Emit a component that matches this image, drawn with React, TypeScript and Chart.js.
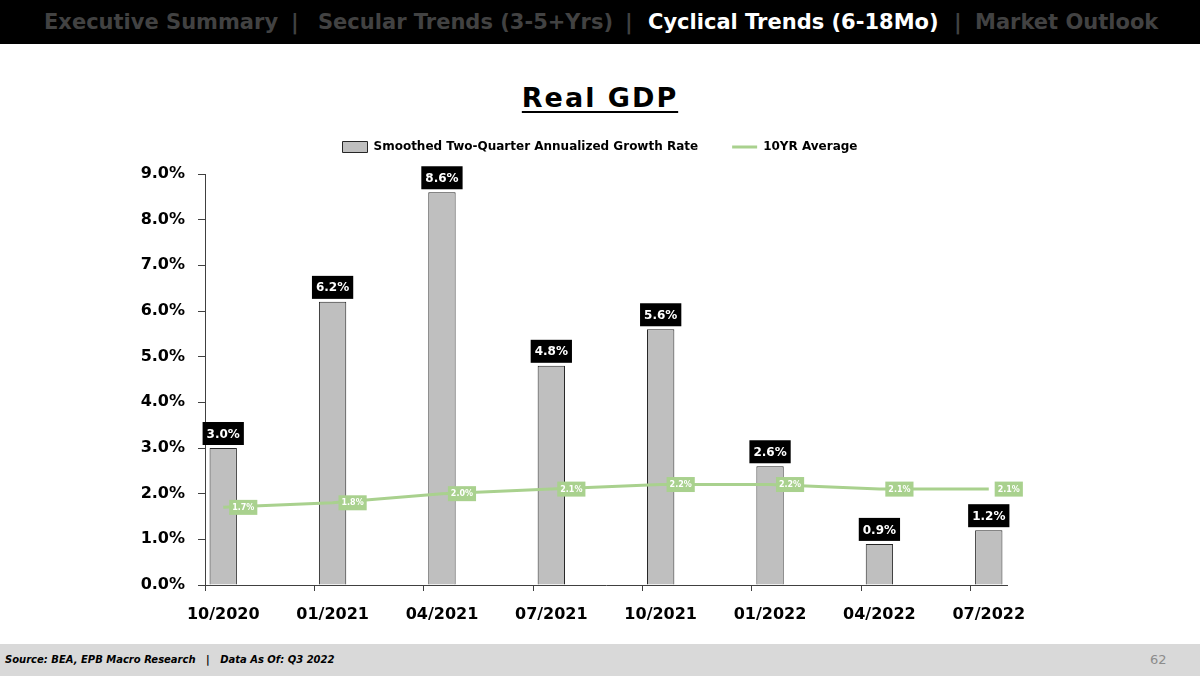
import React, { useEffect, useRef } from "react";
import { Chart, registerables } from "chart.js";

Chart.register(...registerables);

// Quarterly observations (each quarter spans three monthly slots on the axis)
const quarterLabels = ["10/2020", "01/2021", "04/2021", "07/2021", "10/2021", "01/2022", "04/2022", "07/2022"];
const growthRate = [3.0, 6.2, 8.6, 4.8, 5.6, 2.6, 0.9, 1.2];
const tenYearAverage = [1.7, 1.8, 2.0, 2.1, 2.2, 2.2, 2.1, 2.1];
const yTicks = [0, 1, 2, 3, 4, 5, 6, 7, 8, 9];

const MONTHS_PER_QUARTER = 3;
const slotCount = (quarterLabels.length - 1) * MONTHS_PER_QUARTER + 1;

const slotLabels: string[] = Array.from({ length: slotCount }, (_, i) =>
  i % MONTHS_PER_QUARTER === 0 ? quarterLabels[i / MONTHS_PER_QUARTER] : ""
);
const toSlots = (vals: number[]) =>
  Array.from({ length: slotCount }, (_, i) =>
    i % MONTHS_PER_QUARTER === 0 ? vals[i / MONTHS_PER_QUARTER] : null
  );

const FONT = "'DejaVu Sans', 'Noto Sans', sans-serif";
const GREEN = "#a9d18e";
const GREY_TEXT = "#424242";

const valueLabels = {
  id: "valueLabels",
  afterDatasetsDraw(chart: any) {
    const ctx = chart.ctx;
    ctx.save();
    ctx.textAlign = "center";
    ctx.textBaseline = "middle";
    // bar labels: black boxes above bars
    const barMeta = chart.getDatasetMeta(0);
    ctx.font = `700 12px ${FONT}`;
    barMeta.data.forEach((el: any, i: number) => {
      const v = chart.data.datasets[0].data[i];
      if (v == null) return;
      const txt = v.toFixed(1) + "%";
      const w = ctx.measureText(txt).width + 8;
      const h = 23;
      const cx = el.x;
      const bottom = el.y - 3;
      ctx.fillStyle = "#000";
      ctx.fillRect(cx - w / 2, bottom - h, w, h);
      ctx.fillStyle = "#fff";
      ctx.fillText(txt, cx, bottom - h / 2 + 1);
    });
    // average labels: green boxes right of the line points
    const lineMeta = chart.getDatasetMeta(1);
    ctx.font = `700 8px ${FONT}`;
    lineMeta.data.forEach((el: any, i: number) => {
      const v = chart.data.datasets[1].data[i];
      if (v == null) return;
      const txt = v.toFixed(1) + "%";
      const w = ctx.measureText(txt).width + 6;
      const h = 15;
      const cx = el.x + 20;
      const cy = el.y;
      ctx.fillStyle = GREEN;
      ctx.fillRect(cx - w / 2, cy - h / 2, w, h);
      ctx.fillStyle = "#fff";
      ctx.fillText(txt, cx, cy + 0.5);
    });
    ctx.restore();
  },
};

function GdpChart() {
  const ref = useRef<HTMLCanvasElement>(null);
  useEffect(() => {
    if (!ref.current) return;
    const chart = new Chart(ref.current, {
      type: "bar",
      data: {
        labels: slotLabels,
        datasets: [
          {
            type: "bar",
            label: "Smoothed Two-Quarter Annualized Growth Rate",
            data: toSlots(growthRate),
            backgroundColor: "#bfbfbf",
            borderColor: "#262626",
            borderWidth: 1,
            categoryPercentage: 1,
            barPercentage: 0.75,
            pointStyle: "rect",
            order: 2,
          } as any,
          {
            type: "line",
            label: "10YR Average",
            data: toSlots(tenYearAverage),
            borderColor: GREEN,
            backgroundColor: GREEN,
            borderWidth: 3,
            pointRadius: 0,
            spanGaps: true,
            tension: 0,
            pointStyle: "line",
            order: 1,
          } as any,
        ],
      },
      options: {
        responsive: false,
        animation: false,
        layout: { padding: { top: 0, left: 0, right: 0, bottom: 0 } },
        plugins: {
          tooltip: { enabled: false },
          // empty spacer between the legend and the plot area
          title: {
            display: true,
            text: "",
            weight: 500,
            padding: 0,
            font: { size: 11, lineHeight: 1 },
          } as any,
          legend: {
            display: true,
            position: "top",
            labels: {
              usePointStyle: true,
              pointStyleWidth: 25,
              boxHeight: 11,
              padding: 34,
              color: "#000",
              font: { family: FONT, size: 12, weight: "bold" },
              sort: (a: any, b: any) => a.datasetIndex - b.datasetIndex,
            },
          },
        },
        scales: {
          x: {
            type: "category",
            offset: true,
            afterFit: (s: any) => {
              s.height = 55;
            },
            border: { display: true, color: "#404040", width: 1 },
            grid: {
              display: true,
              offset: true,
              drawOnChartArea: false,
              drawTicks: true,
              tickLength: 6,
              color: (c: any) =>
                c.index % MONTHS_PER_QUARTER === 0 && c.index < slotCount ? "#404040" : "rgba(0,0,0,0)",
            },
            ticks: {
              autoSkip: false,
              maxRotation: 0,
              minRotation: 0,
              padding: 14,
              color: "#000",
              font: { family: FONT, size: 16, weight: "bold" },
            },
          },
          y: {
            min: 0,
            max: 9,
            afterFit: (s: any) => {
              s.width = 205;
            },
            afterBuildTicks: (s: any) => {
              s.ticks = yTicks.map((v) => ({ value: v }));
            },
            border: { display: true, color: "#404040", width: 1 },
            grid: { display: true, drawOnChartArea: false, drawTicks: true, tickLength: 7, color: "#404040" },
            ticks: {
              padding: 13,
              color: "#000",
              font: { family: FONT, size: 16, weight: "bold" },
              callback: (v: any) => Number(v).toFixed(1) + "%",
            },
          },
          // blank margin on the right of the plot
          rightMargin: {
            type: "linear",
            position: "right",
            min: 0,
            max: 9,
            afterFit: (s: any) => {
              s.width = 193;
            },
            border: { display: false },
            grid: { display: false },
            ticks: { display: false },
          },
        },
      },
      plugins: [valueLabels],
    });
    return () => chart.destroy();
  }, []);
  return (
    <canvas
      ref={ref}
      width={1200}
      height={533}
      style={{ position: "absolute", left: 0, top: 107, width: 1200, height: 533 }}
    />
  );
}

export default function App() {
  useEffect(() => {
    document.body.style.margin = "0";
  }, []);
  const headerFont: React.CSSProperties = {
    position: "absolute",
    top: 0,
    height: 44,
    lineHeight: "44px",
    fontFamily: FONT,
    fontWeight: 700,
    fontSize: 21,
    whiteSpace: "nowrap",
    color: GREY_TEXT,
  };
  return (
    <div style={{ position: "relative", width: 1200, height: 676, background: "#fff", overflow: "hidden" }}>
      <div style={{ position: "absolute", left: 0, top: 0, width: 1200, height: 44, background: "#000" }} />
      <span style={{ ...headerFont, left: 44 }}>Executive Summary</span>
      <span style={{ ...headerFont, left: 291 }}>|</span>
      <span style={{ ...headerFont, left: 318 }}>Secular Trends (3-5+Yrs)</span>
      <span style={{ ...headerFont, left: 625 }}>|</span>
      <span style={{ ...headerFont, left: 648, color: "#fff" }}>Cyclical Trends (6-18Mo)</span>
      <span style={{ ...headerFont, left: 954 }}>|</span>
      <span style={{ ...headerFont, left: 975 }}>Market Outlook</span>

      <div
        style={{
          position: "absolute",
          left: 0,
          top: 78,
          width: 1200,
          textAlign: "center",
          fontFamily: FONT,
          fontWeight: 700,
          fontSize: 27,
          letterSpacing: 2,
          lineHeight: "40px",
          color: "#000",
          textDecoration: "underline",
          textDecorationThickness: 2,
          textUnderlineOffset: 4,
        }}
      >
        Real GDP
      </div>

      <GdpChart />

      <div style={{ position: "absolute", left: 0, top: 644, width: 1200, height: 32, background: "#d9d9d9" }} />
      <span
        style={{
          position: "absolute",
          left: 5,
          top: 644,
          lineHeight: "32px",
          fontFamily: FONT,
          fontWeight: 700,
          fontStyle: "italic",
          fontSize: 10,
          color: "#000",
          whiteSpace: "pre",
        }}
      >
        {"Source: BEA, EPB Macro Research   |   Data As Of: Q3 2022"}
      </span>
      <span
        style={{
          position: "absolute",
          left: 1150,
          top: 644,
          lineHeight: "32px",
          fontFamily: FONT,
          fontSize: 13,
          color: "#8c8c8c",
        }}
      >
        62
      </span>
    </div>
  );
}
